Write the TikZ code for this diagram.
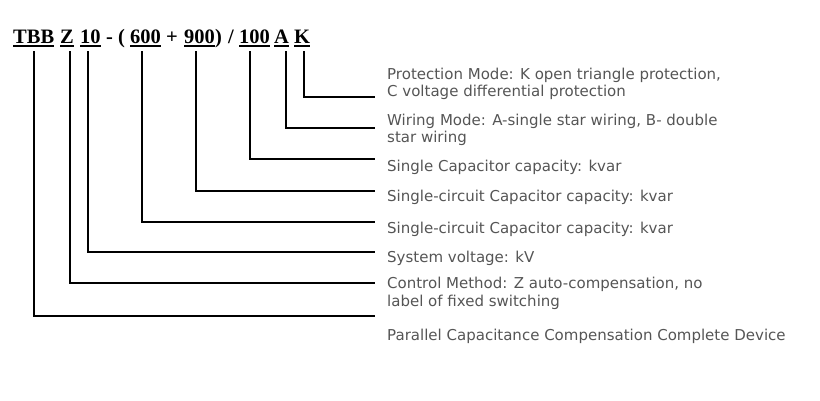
\documentclass[tikz,border=0pt]{standalone}
\usepackage{fontspec}
\setmainfont{Liberation Serif}
\newfontfamily\labfont{DejaVu Sans}
\definecolor{labgray}{HTML}{555555}
\begin{document}
\begin{tikzpicture}[x=1pt,y=-1pt,
  code/.style={inner sep=0pt, anchor=base west, font=\fontsize{20.5}{24}\selectfont\bfseries},
  lab/.style={inner sep=0pt, anchor=base west, align=left, text=labgray,
              font=\labfont\fontsize{15}{17.5}\selectfont},
  conn/.style={line width=1.8pt, line join=miter},
  uline/.style={line width=1.4pt}]
\useasboundingbox (0,0) rectangle (820,400);
% code pieces
\node[code] (tbb)   at (13,43)  {TBB};
\node[code] (z)     at (60,43)  {Z};
\node[code] (ten)   at (80,43)  {10};
\node[code] (dash)  at (106,43) {-};
\node[code] (lpar)  at (118,43) {(};
\node[code] (six)   at (130,43) {600};
\node[code] (plus)  at (166,43) {+};
\node[code] (nine)  at (184,43) {900};
\node[code] (rpar)  at (215,43) {)};
\node[code] (slash) at (228,43) {/};
\node[code] (hund)  at (239,43) {100};
\node[code] (a)     at (274,43) {A};
\node[code] (k)     at (294,43) {K};
\foreach \p in {tbb,z,ten,six,nine,hund,a,k}
  \draw[uline] ([yshift=-2.8pt]\p.base west) -- ([yshift=-2.8pt]\p.base east);
% labels (base anchor = baseline of the last line)
\node[lab] (l1) at (387,96.5)  {Protection Mode: K open triangle protection,\\C voltage differential protection};
\node[lab] (l2) at (387,142.5) {Wiring Mode: A-single star wiring, B- double\\star wiring};
\node[lab] (l3) at (387,171) {Single Capacitor capacity: kvar};
\node[lab] (l4) at (387,201.5) {Single-circuit Capacitor capacity: kvar};
\node[lab] (l5) at (387,233) {Single-circuit Capacitor capacity: kvar};
\node[lab] (l6) at (387,262) {System voltage: kV};
\node[lab] (l7) at (387,306) {Control Method: Z auto-compensation, no\\label of fixed switching};
\node[lab] (l8) at (387,340) {Parallel Capacitance Compensation Complete Device};
% connector ends
\coordinate (e1) at (375,97.3);
\coordinate (e2) at (375,127.7);
\coordinate (e3) at (375,159.3);
\coordinate (e4) at (375,191);
\coordinate (e5) at (375,222);
\coordinate (e6) at (375,252);
\coordinate (e7) at (375,283.3);
\coordinate (e8) at (375,316);
% connectors
\draw[conn] ([xshift=2pt,yshift=-8pt]k.south) |- (e1);
\draw[conn] ([xshift=4.6pt,yshift=-8pt]a.south) |- (e2);
\draw[conn] ([xshift=-4.4pt,yshift=-8pt]hund.south) |- (e3);
\draw[conn] ([xshift=-3.4pt,yshift=-8pt]nine.south) |- (e4);
\draw[conn] ([xshift=-3.4pt,yshift=-8pt]six.south) |- (e5);
\draw[conn] ([xshift=-2.2pt,yshift=-8pt]ten.south) |- (e6);
\draw[conn] ([xshift=3.2pt,yshift=-8pt]z.south) |- (e7);
\draw[conn] ([xshift=0.5pt,yshift=-8pt]tbb.south) |- (e8);
\end{tikzpicture}
\end{document}
